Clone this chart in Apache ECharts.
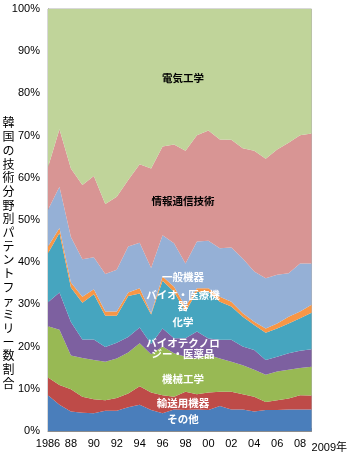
<!DOCTYPE html>
<html><head><meta charset="utf-8">
<script src="https://cdn.jsdelivr.net/npm/echarts@6/dist/echarts.min.js"></script>
<style>html,body{margin:0;padding:0;background:#fff}#c{width:350px;height:456px}</style>
</head><body><div id="c"></div>
<script>
const years = ['1986','1987','1988','1989','1990','1991','1992','1993','1994','1995','1996','1997','1998','1999','2000','2001','2002','2003','2004','2005','2006','2007','2008','2009'];
const tickLabels = ['1986','','88','','90','','92','','94','','96','','98','','00','','02','','04','','06','','08','2009年'];
const yTicks = [0,10,20,30,40,50,60,70,80,90,100];

const other     = [8.5,6.2,4.6,4.3,4.2,4.8,4.8,5.6,6.2,5.0,4.2,5.1,5.0,5.1,5.0,5.9,5.1,5.1,4.6,5.0,5.0,5.1,5.1,5.1];
const transport = [4.2,4.7,5.3,3.8,3.3,2.5,3.0,3.3,4.4,4.1,4.3,3.0,4.3,3.6,4.1,3.4,4.2,3.6,3.5,1.9,2.3,2.6,3.4,3.3];
const mech      = [12.1,13.1,8.0,9.2,9.3,9.1,9.4,9.7,10.2,9.1,11.5,10.3,8.3,8.5,8.9,7.9,7.1,6.9,6.4,6.4,6.8,6.8,6.4,6.8];
const biotech   = [5.7,8.8,7.9,4.4,4.9,3.5,3.7,3.7,3.7,2.4,4.3,3.6,4.4,6.4,3.9,4.4,5.2,4.4,4.7,3.5,3.5,3.9,4.1,4.2];
const chem      = [11.6,14.1,8.2,8.7,10.7,7.4,6.4,9.7,8.1,7.0,11.3,11.0,6.3,9.4,11.1,9.0,7.9,7.1,5.9,6.5,6.7,7.1,7.7,8.6];
const medical   = [1.6,1.2,1.2,1.4,1.2,1.0,1.0,0.8,1.2,0.3,1.0,1.2,1.2,0.8,0.8,1.2,1.1,0.8,0.8,1.0,1.2,1.6,1.6,1.9];
const general   = [8.7,9.8,10.8,8.9,7.6,8.9,9.9,10.9,10.8,10.7,9.8,10.3,10.2,11.1,11.3,11.5,12.9,13.0,11.9,11.9,11.5,10.3,11.4,9.8];
const ict       = [10.1,13.6,16.2,17.6,19.2,16.6,17.3,15.8,18.6,23.6,21.0,23.4,26.7,25.2,26.1,25.8,25.5,26.1,28.6,28.3,29.7,30.9,30.4,30.8];
const elec      = [37.5,28.5,37.8,41.7,39.6,46.2,44.5,40.5,36.8,37.8,32.6,32.1,33.6,29.9,28.8,30.9,31.0,33.0,33.6,35.5,33.3,31.7,29.9,29.5];

const seriesNames = ['その他','輸送用機器','機械工学','バイオテクノロジー・医薬品','化学','バイオ・医療機器','一般機器','情報通信技術','電気工学'];
const seriesData = [other, transport, mech, biotech, chem, medical, general, ict, elec];
const colors = ['#4a7ebb','#be4b48','#98b954','#7d60a0','#46a5bf','#f79646','#95b0d6','#d89594','#c0d49a'];

const areaLabels = [
  {text:'電気工学', x:183, y:78, fill:'#000'},
  {text:'情報通信技術', x:183, y:201, fill:'#000'},
  {text:'一般機器', x:183, y:277, fill:'#fff'},
  {text:'バイオ・医療機\n器', x:183, y:301, fill:'#fff'},
  {text:'化学', x:183, y:322, fill:'#fff'},
  {text:'バイオテクノロ\nジー・医薬品', x:183, y:349, fill:'#fff'},
  {text:'機械工学', x:183, y:379, fill:'#fff'},
  {text:'輸送用機器', x:183, y:403, fill:'#fff'},
  {text:'その他', x:183, y:419, fill:'#fff'}
];
const yTitle = '韓国の技術分野別パテントファミリー数割合';

const cjk = '"Noto Sans CJK JP", sans-serif';
const chart = echarts.init(document.getElementById('c'));
const graphics = areaLabels.map(l => ({
  type:'text', x:l.x, y:l.y, z:100,
  style:{text:l.text, fill:l.fill, font:'bold 10.5px ' + cjk, align:'center', verticalAlign:'middle', lineHeight:11}
}));
graphics.push({
  type:'text', x:8.5, y:253, z:100,
  style:{text:yTitle.split('').join('\n'), fill:'#000', font:'12px ' + cjk, align:'center', verticalAlign:'middle', lineHeight:13.7}
});

chart.setOption({
  animation:false,
  color: colors,
  grid:{left:48, right:33, top:9, bottom:25, show:true, borderColor:'#b0b0b0', borderWidth:1, backgroundColor:'transparent'},
  xAxis:{
    type:'category', data:years, boundaryGap:false,
    axisLine:{lineStyle:{color:'#8c8c8c'}},
    axisTick:{show:true, inside:true, length:3, interval:0, lineStyle:{color:'#8c8c8c'}},
    axisLabel:{
      interval:(i)=>tickLabels[i]!=='',
      formatter:(v,i)=>i===years.length-1?'{e|'+tickLabels[i]+'}':tickLabels[i],
      color:'#000', fontSize:11, fontFamily:'"Liberation Sans", Arial, '+cjk, margin:7,
      alignMaxLabel:'left',
      rich:{e:{fontSize:11, fontFamily:'"Liberation Sans", Arial, '+cjk, color:'#000', padding:[4,0,0,0]}}
    },
    splitLine:{show:false}
  },
  yAxis:{
    type:'value', min:yTicks[0], max:yTicks[yTicks.length-1], interval:10,
    axisLine:{show:true, lineStyle:{color:'#8c8c8c'}},
    axisTick:{show:true, inside:true, length:3, lineStyle:{color:'#8c8c8c'}},
    axisLabel:{formatter:'{value}%', color:'#000', fontSize:11, fontFamily:'"Liberation Sans", Arial, sans-serif', margin:8},
    splitLine:{show:false}
  },
  series: seriesNames.map((n,k)=>({
    name:n, type:'line', stack:'total', data:seriesData[k],
    showSymbol:false, symbol:'none', smooth:false,
    lineStyle:{width:0}, areaStyle:{color:colors[k], opacity:1},
    emphasis:{disabled:true}
  })),
  graphic: graphics
});
</script></body></html>
